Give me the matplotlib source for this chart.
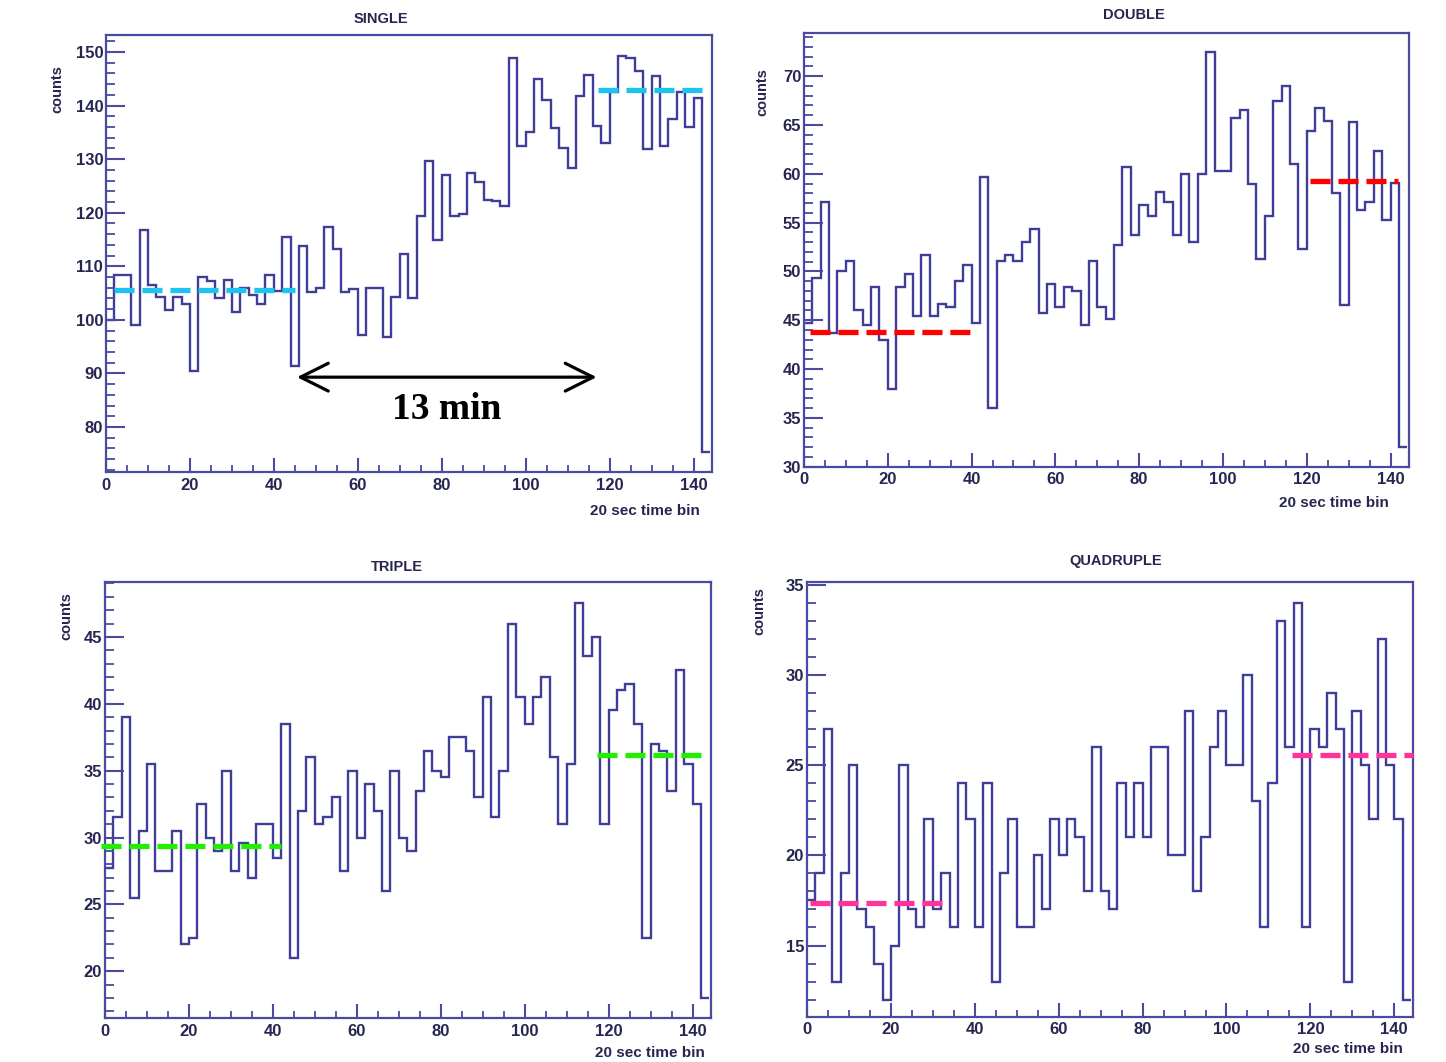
import numpy as np
import matplotlib
matplotlib.use("Agg")
import matplotlib.pyplot as plt
from matplotlib.ticker import MultipleLocator

plt.rcParams['font.family'] = ['Liberation Sans', 'DejaVu Sans']
plt.rcParams['font.weight'] = 'bold'

# 72 bins of 2 time units (20 sec each)
edges = np.arange(0, 146, 2)

single = [100, 108.4, 108.3, 99, 116.8, 106.5, 104.3, 101.9, 104.3, 103,
          90.5, 108, 107.3, 104, 107.5, 101.5, 106, 104.6, 103, 108.3,
          105.4, 115.4, 91.3, 113.8, 105.2, 106, 117.4, 113.3, 105.2, 105.8,
          97.1, 106, 106, 96.8, 104.3, 112.3, 104, 119.4, 129.6, 114.9,
          127.1, 119.3, 119.8, 127.5, 125.8, 122.4, 122.1, 121.3, 148.9, 132.5,
          135, 145, 141.1, 135.8, 132, 128.4, 141.8, 145.8, 136.2, 133,
          142.6, 149.3, 148.9, 146.4, 131.9, 145.6, 132.4, 137.5, 142.6, 136,
          141.4, 75.3]

double = [44.7, 49.35, 57.1, 43.7, 50, 51.1, 46, 44.5, 48.4, 43,
          38, 48.4, 49.7, 45.4, 51.7, 45.4, 46.7, 46.4, 49, 50.7,
          44.7, 59.7, 36, 51.1, 51.7, 51.1, 53, 54.3, 45.7, 48.7,
          46.4, 48.4, 48, 44.5, 51.1, 46.4, 45.1, 52.7, 60.7, 53.7,
          56.8, 55.7, 58.1, 57.1, 53.7, 60, 53, 60, 72.5, 60.3,
          60.3, 65.7, 66.5, 59, 51.3, 55.7, 67.5, 69, 61, 52.3,
          64.4, 66.7, 65.4, 58, 46.6, 65.3, 56.3, 57.1, 62.3, 55.3,
          59.1, 32]

triple = [27.7, 31.5, 39, 25.5, 30.5, 35.5, 27.5, 27.5, 30.5, 22,
          22.5, 32.5, 30, 29, 35, 27.5, 29.6, 27, 31, 31,
          28.5, 38.5, 21, 32, 36, 31, 31.5, 33, 27.5, 35,
          30, 34, 32, 26, 35, 30, 29, 33.5, 36.5, 35,
          34.5, 37.5, 37.5, 36.5, 33, 40.5, 31.5, 35, 46, 40.5,
          38.5, 40.5, 42, 36, 31, 35.5, 47.5, 43.6, 45, 31,
          39.5, 41, 41.5, 38.5, 22.5, 37, 36.5, 33.5, 42.5, 35.5,
          32.5, 18]

quadruple = [17.5, 19, 27, 13, 19, 25, 17, 16, 14, 12,
             15, 25, 17, 16, 22, 17, 19, 16, 24, 22,
             16, 24, 13, 19, 22, 16, 16, 20, 17, 22,
             20, 22, 21, 18, 26, 18, 17, 24, 21, 24,
             21, 26, 26, 20, 20, 28, 18, 21, 26, 28,
             25, 25, 30, 23, 16, 24, 33, 26, 34, 16,
             27, 26, 29, 27, 13, 28, 25, 22, 32, 25,
             22, 12]

# mean levels (start, end, level) before and after
single_means = [(2, 45, 105.5), (117.2, 142.5, 143)]
double_means = [(1.5, 40, 43.8), (120.8, 141.8, 59.3)]
triple_means = [(-1, 42, 29.35), (117.3, 142.8, 36.15)]
quadruple_means = [(0.6, 32.7, 17.35), (115.6, 144.4, 25.55)]

HIST = '#3e3e98'
FRAME = '#4a4aa2'
TXT = '#262650'

fig = plt.figure(figsize=(14.46, 10.62), dpi=100)


def draw_panel(rect, title, values, ylim, ymajor, yminor, means, mcolor,
               title_xy, counts_xy, xlabel_xy):
    ax = fig.add_axes(rect)
    ax.stairs(values, edges, baseline=None, color=HIST, lw=1.7)
    for x0, x1, y in means:
        ax.plot([x0, x1], [y, y], color=mcolor, lw=3.8, dashes=(3.8, 1.5),
                clip_on=False, zorder=3)
    ax.set_xlim(0, 144.4)
    ax.set_ylim(*ylim)
    ax.xaxis.set_major_locator(MultipleLocator(20))
    ax.xaxis.set_minor_locator(MultipleLocator(5))
    ax.yaxis.set_major_locator(MultipleLocator(ymajor))
    ax.yaxis.set_minor_locator(MultipleLocator(yminor))
    for s in ax.spines.values():
        s.set_color(FRAME)
        s.set_linewidth(1.6)
    ax.tick_params(axis='x', which='major', direction='in', length=10, width=1.5,
                   color=FRAME, labelsize=12, labelcolor=TXT, pad=4, top=False)
    ax.tick_params(axis='x', which='minor', direction='in', length=5, width=1.3,
                   color=FRAME, top=False)
    ax.tick_params(axis='y', which='major', direction='in', length=13.5, width=1.5,
                   color=FRAME, labelsize=12, labelcolor=TXT, pad=2, right=False)
    ax.tick_params(axis='y', which='minor', direction='in', length=6.5, width=1.3,
                   color=FRAME, right=False)
    ax.text(title_xy[0], title_xy[1], title, transform=ax.transAxes, ha='center',
            va='center', fontsize=10.5, color=TXT)
    ax.text(counts_xy[0], counts_xy[1], 'counts', transform=ax.transAxes, ha='center',
            va='top', rotation=90, fontsize=10.5, color=TXT)
    ax.text(xlabel_xy[0], xlabel_xy[1], '20 sec time bin', transform=ax.transAxes,
            ha='right', va='center', fontsize=11, color=TXT)
    return ax


ax1 = draw_panel([0.0733, 0.5556, 0.4191, 0.4115], 'SINGLE', single, (71.6, 153.2),
                 10, 2, single_means, '#1ec4f0',
                 (0.454, 1.037), (-0.081, 0.93), (0.98, -0.089))
ax2 = draw_panel([0.5560, 0.5605, 0.4184, 0.4083], 'DOUBLE', double, (30, 74.4),
                 5, 1, double_means, '#ff0000',
                 (0.545, 1.041), (-0.068, 0.92), (0.967, -0.083))
ax3 = draw_panel([0.0726, 0.0414, 0.4191, 0.4105], 'TRIPLE', triple, (16.5, 49.1),
                 5, 1, triple_means, '#22ee00',
                 (0.482, 1.034), (-0.063, 0.977), (0.99, -0.08))
ax4 = draw_panel([0.5581, 0.0427, 0.4189, 0.4096], 'QUADRUPLE', quadruple, (11.05, 35.2),
                 5, 1, quadruple_means, '#ff3399',
                 (0.51, 1.048), (-0.079, 0.988), (0.983, -0.074))

# 13 minute interval arrow
ax1.annotate('', xy=(116.9, 89.3), xytext=(45.5, 89.3),
             arrowprops=dict(arrowstyle='<->,head_length=0.8,head_width=0.4',
                             lw=2.3, color='black', mutation_scale=25,
                             shrinkA=0, shrinkB=0))
ax1.text(81.2, 83.2, '13 min', ha='center', va='center', fontsize=27,
         family='Liberation Serif', fontweight='bold', color='black')

fig.savefig('out.png', dpi=100)
